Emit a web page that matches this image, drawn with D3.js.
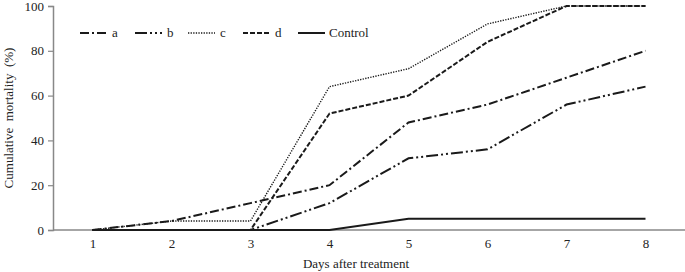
<!DOCTYPE html>
<html>
<head>
<meta charset="utf-8">
<script src="https://cdn.jsdelivr.net/npm/d3@7"></script>
<style>
  body { margin: 0; background: #fff; }
  svg { display: block; font-family: "Liberation Serif", "Times New Roman", serif; }
</style>
</head>
<body>
<svg id="chart" width="685" height="272"></svg>
<script>
const days = ["1", "2", "3", "4", "5", "6", "7", "8"];
const seriesA = [0, 4, 12, 20, 48, 56, 68, 80];
const seriesB = [0, 0, 0, 12, 32, 36, 56, 64];
const seriesC = [0, 4, 4, 64, 72, 92, 100, 100];
const seriesD = [0, 0, 0, 52, 60, 84, 100, 100];
const seriesControl = [0, 0, 0, 0, 5, 5, 5, 5];
const seriesNames = ["a", "b", "c", "d", "Control"];
const yTicks = [0, 20, 40, 60, 80, 100];

const series = [
  { name: seriesNames[0], values: seriesA, dash: "9,3,2,3", width: 2 },
  { name: seriesNames[1], values: seriesB, dash: "12,3,2,3,2,3", width: 2 },
  { name: seriesNames[2], values: seriesC, dash: "1.3,1.3", width: 1.4 },
  { name: seriesNames[3], values: seriesD, dash: "5,2", width: 2 },
  { name: seriesNames[4], values: seriesControl, dash: null, width: 2 }
];

const svg = d3.select("#chart");
const mLeft = 53, mRight = 685, mTop = 6, mBottom = 230;

const x = d3.scalePoint().domain(days).range([mLeft, mRight]).padding(0.5);
const y = d3.scaleLinear().domain([0, 100]).range([mBottom, mTop]);

// Y axis
const yAxis = svg.append("g").attr("transform", `translate(${mLeft},0)`)
  .call(d3.axisLeft(y).tickValues(yTicks).tickSize(5).tickPadding(4));
yAxis.select(".domain").attr("stroke", "#888").attr("stroke-width", 1.5);
yAxis.selectAll(".tick line").attr("stroke", "#888").attr("stroke-width", 1.2);
yAxis.selectAll("text").attr("font-size", 13).attr("fill", "#222")
  .attr("font-family", "Liberation Serif, serif");

// X axis
const xAxis = svg.append("g").attr("transform", `translate(0,${mBottom})`)
  .call(d3.axisBottom(x).tickSize(0).tickPadding(9));
xAxis.select(".domain").attr("stroke", "#888").attr("stroke-width", 1.5)
  .attr("d", `M${mLeft},0H${mRight}`);
xAxis.selectAll("text").attr("font-size", 13).attr("fill", "#222")
  .attr("font-family", "Liberation Serif, serif");

// Lines
const line = d3.line().x((d, i) => x(days[i])).y(d => y(d));
series.forEach(s => {
  svg.append("path")
    .datum(s.values)
    .attr("d", line)
    .attr("fill", "none")
    .attr("stroke", "#1a1a1a")
    .attr("stroke-width", s.width)
    .attr("stroke-dasharray", s.dash);
});

// Legend
const legendX = [80, 135, 188, 243, 298];
const legendY = 33;
series.forEach((s, i) => {
  const g = svg.append("g");
  g.append("line")
    .attr("x1", legendX[i]).attr("x2", legendX[i] + 27)
    .attr("y1", legendY).attr("y2", legendY)
    .attr("stroke", "#1a1a1a")
    .attr("stroke-width", s.width)
    .attr("stroke-dasharray", s.dash);
  g.append("text")
    .attr("x", legendX[i] + (i === 4 ? 31 : 32)).attr("y", legendY + 4)
    .attr("font-size", 13).attr("fill", "#222")
    .text(s.name);
});

// Axis titles
svg.append("text")
  .attr("x", 356).attr("y", 268)
  .attr("text-anchor", "middle")
  .attr("font-size", 13).attr("fill", "#222")
  .text("Days after treatment");

svg.append("text")
  .attr("transform", "translate(13,118) rotate(-90)")
  .attr("text-anchor", "middle")
  .attr("font-size", 13).attr("fill", "#222")
  .attr("xml:space", "preserve")
  .style("white-space", "pre")
  .text("Cumulative  mortality  (%)");
</script>
</body>
</html>
